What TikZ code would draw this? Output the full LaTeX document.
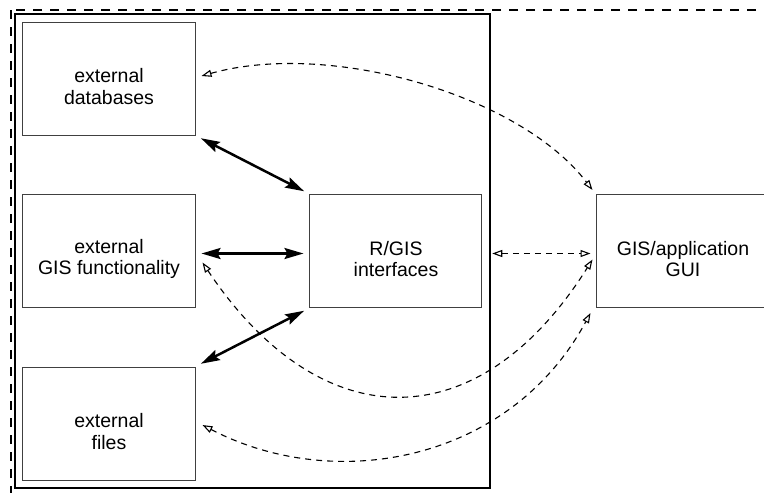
\documentclass[tikz,border=0pt]{standalone}
\usepackage{fontspec}
\setmainfont{Liberation Sans}
\usetikzlibrary{matrix,arrows.meta,fit}

% taller first line, so that the two lines sit a bit low in the box
\newcommand{\lowtext}{\rule{0pt}{30pt}}

\tikzset{
  box/.style={draw=black!75, line width=1pt, minimum width=172pt, minimum height=113pt,
    align=center, font=\fontsize{19.5}{21.5}\selectfont},
  container/.style={draw, line width=1.5pt, inner sep=7.5pt},
  outer dash/.style={draw, line width=1.3pt, dash pattern=on 9pt off 8pt},
  both way/.style={>={Stealth[length=19pt,width=11pt,inset=3pt]}, <->, line width=2.5pt,
    shorten >=6pt, shorten <=6pt},
  dashlink/.style={>={Triangle[open,length=10pt,width=7pt]}, <->, line width=1.1pt,
    dash pattern=on 6pt off 5pt}
}

\begin{document}
\begin{tikzpicture}[x=1pt, y=-1pt]
		\clip (0,0) rectangle (764,493);
		\matrix (m) [row sep=58.5pt, column sep=114pt, inner sep=0pt] at (396,251)
		{
			\node[box] (db) {\lowtext external\\databases}; & & \\
			\node[box] (gisfn) {\lowtext external\\GIS functionality}; & \node[box] (rgis) {\lowtext R/GIS\\interfaces}; & \node[box] (gui) {\lowtext GIS/application\\GUI}; \\
			\node[box] (files) {\lowtext external\\files}; & & \\
		};
		\node[container, fit=(db)(files)(rgis)] (inner) {};
		\draw[outer dash] (11,10) rectangle (800,520);
		% R side
		\path[both way]
		(db.south east) edge (rgis.north west)
		([yshift=-2.5pt]gisfn.east) edge ([yshift=-2.5pt]rgis.west)
		(files.north east) edge (rgis.south west)
		;
		% GUI side
		\draw[dashlink] ([shift={(6,-2.5)}]db.east) .. controls (330,40) and (520,95) .. ([shift={(-4,-4)}]gui.north west);
		\draw[dashlink] ([shift={(1.5,2.5)}]inner.east) -- ([shift={(-6,2.5)}]gui.west);
		\draw[dashlink] ([shift={(7,11.5)}]gisfn.east) .. controls (321,440) and (479,440) .. ([shift={(-4,8.5)}]gui.west);
		\draw[dashlink] ([shift={(7,1.5)}]files.east) .. controls (335,494) and (510,462) .. ([shift={(-6,5)}]gui.south west);
	\end{tikzpicture}
\end{document}
